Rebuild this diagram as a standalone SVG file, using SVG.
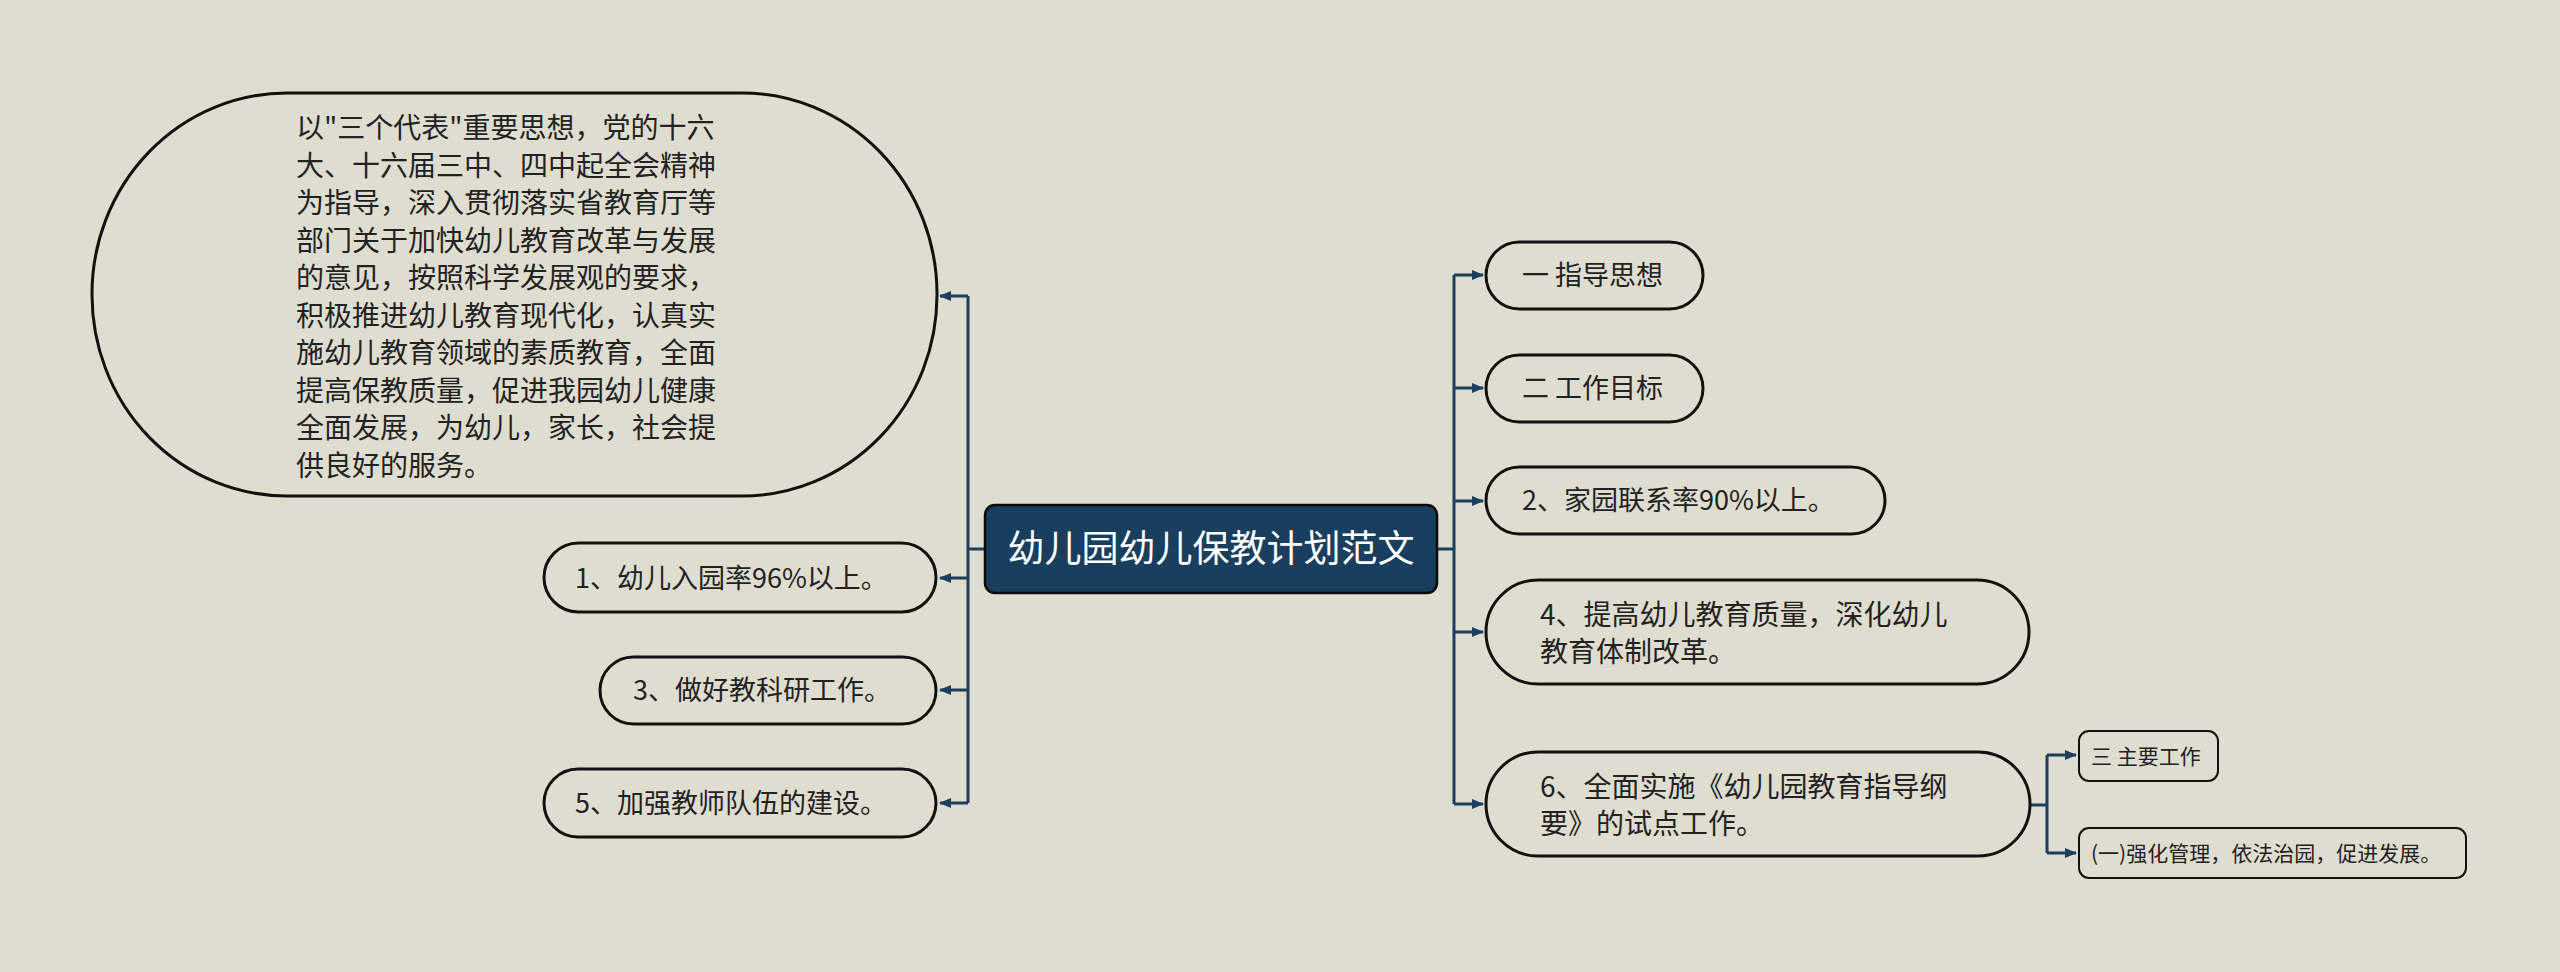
<svg xmlns="http://www.w3.org/2000/svg" width="2560" height="972" viewBox="0 0 2560 972">
<style>
  .bg { fill: #dfddd0; }
  .node { fill: #dfddd0; stroke: #111; stroke-width: 3; }
  .sub { fill: #dfddd0; stroke: #111; stroke-width: 2; }
  .root { fill: #1a3e5e; stroke: #0b0b0b; stroke-width: 2.5; }
  .t { font-family: "Noto Sans CJK SC", "Noto Sans", sans-serif; font-size: 27px; fill: #222; }
  .tb { font-family: "Noto Sans CJK SC", "Noto Sans", sans-serif; font-size: 28px; fill: #222; }
  .ts { font-family: "Noto Sans CJK SC", "Noto Sans", sans-serif; font-size: 21px; fill: #222; }
  .tr { font-family: "Noto Sans CJK SC", "Noto Sans", sans-serif; font-size: 37px; fill: #fff; }
  .c { fill: none; stroke: #1c3f5e; stroke-width: 3; }
  .ca { fill: none; stroke: #1c3f5e; stroke-width: 3; marker-end: url(#arr); }
</style>
<defs>
  <marker id="arr" markerUnits="userSpaceOnUse" markerWidth="12" markerHeight="12" viewBox="0 0 12 12" refX="11" refY="6" orient="auto">
    <path d="M0,1 L12,6 L0,11 Z" fill="#1c3f5e"/>
  </marker>
</defs>
<rect class="bg" x="0" y="0" width="2560" height="972"/>

<g id="connectors">
  <path class="c" d="M985,549 H968"/>
  <path class="c" d="M968,296 V803"/>
  <path class="ca" d="M968,296 H940"/>
  <path class="ca" d="M968,578 H940"/>
  <path class="ca" d="M968,690 H940"/>
  <path class="ca" d="M968,803 H940"/>
  <path class="c" d="M1437,549 H1454"/>
  <path class="c" d="M1454,275 V804"/>
  <path class="ca" d="M1454,275 H1483"/>
  <path class="ca" d="M1454,388 H1483"/>
  <path class="ca" d="M1454,501 H1483"/>
  <path class="ca" d="M1454,632 H1483"/>
  <path class="ca" d="M1454,804 H1483"/>
  <path class="c" d="M2030,805 H2047"/>
  <path class="c" d="M2047,755 V853"/>
  <path class="ca" d="M2047,755 H2076"/>
  <path class="ca" d="M2047,853 H2076"/>
</g>

<g id="root">
  <rect class="root" x="985" y="505" width="452" height="88" rx="10"/>
  <text class="tr" x="1211" y="562" text-anchor="middle">幼儿园幼儿保教计划范文</text>
</g>

<g id="n-big">
  <rect class="node" x="92" y="93" width="845" height="403" rx="195" ry="201"/>
  <text class="tb" x="296">
    <tspan x="296" y="138">以"三个代表"重要思想，党的十六</tspan>
    <tspan x="296" y="175.5">大、十六届三中、四中起全会精神</tspan>
    <tspan x="296" y="213">为指导，深入贯彻落实省教育厅等</tspan>
    <tspan x="296" y="250.5">部门关于加快幼儿教育改革与发展</tspan>
    <tspan x="296" y="288">的意见，按照科学发展观的要求，</tspan>
    <tspan x="296" y="325.5">积极推进幼儿教育现代化，认真实</tspan>
    <tspan x="296" y="363">施幼儿教育领域的素质教育，全面</tspan>
    <tspan x="296" y="400.5">提高保教质量，促进我园幼儿健康</tspan>
    <tspan x="296" y="438">全面发展，为幼儿，家长，社会提</tspan>
    <tspan x="296" y="475.5">供良好的服务。</tspan>
  </text>
</g>

<g id="n-1">
  <rect class="node" x="544" y="543" width="392" height="69" rx="34.5"/>
  <text class="t" x="575" y="587.5">1、幼儿入园率96%以上。</text>
</g>
<g id="n-3">
  <rect class="node" x="600" y="657" width="336" height="67" rx="33.5"/>
  <text class="t" x="633" y="700">3、做好教科研工作。</text>
</g>
<g id="n-5">
  <rect class="node" x="544" y="769" width="392" height="68" rx="34"/>
  <text class="t" x="575" y="812.5">5、加强教师队伍的建设。</text>
</g>

<g id="n-yi">
  <rect class="node" x="1486" y="242" width="217" height="67" rx="33.5"/>
  <text class="t" x="1522" y="285">一 指导思想</text>
</g>
<g id="n-er">
  <rect class="node" x="1486" y="355" width="217" height="67" rx="33.5"/>
  <text class="t" x="1522" y="398">二 工作目标</text>
</g>
<g id="n-2">
  <rect class="node" x="1486" y="467" width="399" height="67" rx="33.5"/>
  <text class="t" x="1522" y="510">2、家园联系率90%以上。</text>
</g>
<g id="n-4">
  <rect class="node" x="1486" y="580" width="543" height="104" rx="52"/>
  <text class="tb" x="1540">
    <tspan x="1540" y="625">4、提高幼儿教育质量，深化幼儿</tspan>
    <tspan x="1540" y="662">教育体制改革。</tspan>
  </text>
</g>
<g id="n-6">
  <rect class="node" x="1486" y="752" width="544" height="104" rx="52"/>
  <text class="tb" x="1540">
    <tspan x="1540" y="797">6、全面实施《幼儿园教育指导纲</tspan>
    <tspan x="1540" y="834">要》的试点工作。</tspan>
  </text>
</g>

<g id="n-san">
  <rect class="sub" x="2079" y="731" width="139" height="50" rx="10"/>
  <text class="ts" x="2091" y="763.5">三 主要工作</text>
</g>
<g id="n-qiang">
  <rect class="sub" x="2079" y="828" width="387" height="50" rx="10"/>
  <text class="ts" x="2091" y="860.5">(一)强化管理，依法治园，促进发展。</text>
</g>
</svg>
